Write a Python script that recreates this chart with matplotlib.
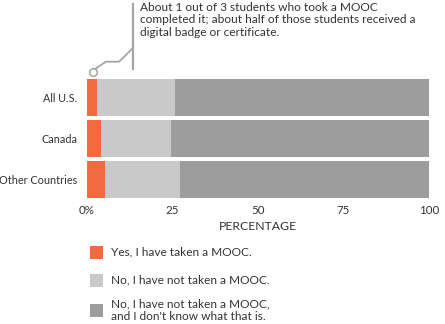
import matplotlib.pyplot as plt
from matplotlib.patches import Rectangle

plt.rcParams['font.family'] = ['Lato', 'DejaVu Sans']

categories = ['All U.S.', 'Canada', 'Other Countries']
taken = [3.0, 4.3, 5.5]
not_taken = [22.8, 20.5, 21.9]
dont_know = [74.2, 75.2, 72.6]
series_labels = ['Yes, I have taken a MOOC.',
                 'No, I have not taken a MOOC.',
                 "No, I have not taken a MOOC,\nand I don't know what that is."]
colors = ['#f26a3f', '#c9c9c9', '#9d9d9d']
tick_vals = [0, 25, 50, 75, 100]
tick_labels = ['0%', '25', '50', '75', '100']
note = ('About 1 out of 3 students who took a MOOC\n'
        'completed it; about half of those students received a\n'
        'digital badge or certificate.')

W, H = 445, 324
txt = '#333333'
fig = plt.figure(figsize=(W / 100, H / 100), dpi=100)
ax = fig.add_axes([86.5 / W, 1 - 198.3 / H, (429 - 86.5) / W, (198.3 - 79) / H])

ypos = list(range(len(categories)))
left = [0] * len(categories)
for vals, col in zip([taken, not_taken, dont_know], colors):
    ax.barh(ypos, vals, left=left, height=0.9, color=col, linewidth=0)
    left = [a + b for a, b in zip(left, vals)]

ax.set_xlim(0, 100)
ax.set_ylim(2.45, -0.45)
ax.set_yticks(ypos)
ax.set_yticklabels(categories, fontsize=7.8, color=txt)
ax.set_xticks(tick_vals)
ax.set_xticklabels(tick_labels, fontsize=8.3, color=txt)
ax.tick_params(axis='y', length=0, pad=6.5)
ax.tick_params(axis='x', length=0, pad=4.5)
for s in ax.spines.values():
    s.set_visible(False)
ax.set_xlabel('PERCENTAGE', fontsize=8.8, color=txt, labelpad=4)

# annotation callout (figure pixel coords, y from top)
def fx(px):
    return px / W

def fy(py):
    return 1 - py / H

lc = '#a5a5a5'
fig.add_artist(plt.Line2D([fx(95), fx(106), fx(119), fx(133.3)],
                          [fy(69), fy(61.7), fy(61.7), fy(47.7)],
                          color=lc, lw=1.3))
fig.add_artist(plt.Line2D([fx(133.3), fx(133.3)], [fy(4), fy(69)],
                          color=lc, lw=1.6))
fig.add_artist(plt.Line2D([fx(92.7)], [fy(72)], marker='o', markersize=5.5,
                          markerfacecolor='white', markeredgecolor=lc,
                          markeredgewidth=1.1))
fig.text(fx(140), fy(2), note, fontsize=8.6, color=txt, va='top',
         linespacing=1.15)

# legend
rows = [252, 280, 310]
for lab, col, r in zip(series_labels, colors, rows):
    fig.add_artist(Rectangle((fx(90), fy(r + 6.5)), 13 / W, 13 / H,
                             transform=fig.transFigure, facecolor=col, lw=0))
    fig.text(fx(111), fy(r), lab, fontsize=8.6, color=txt, va='center',
             linespacing=1.15)

fig.savefig('out.png', dpi=100)
